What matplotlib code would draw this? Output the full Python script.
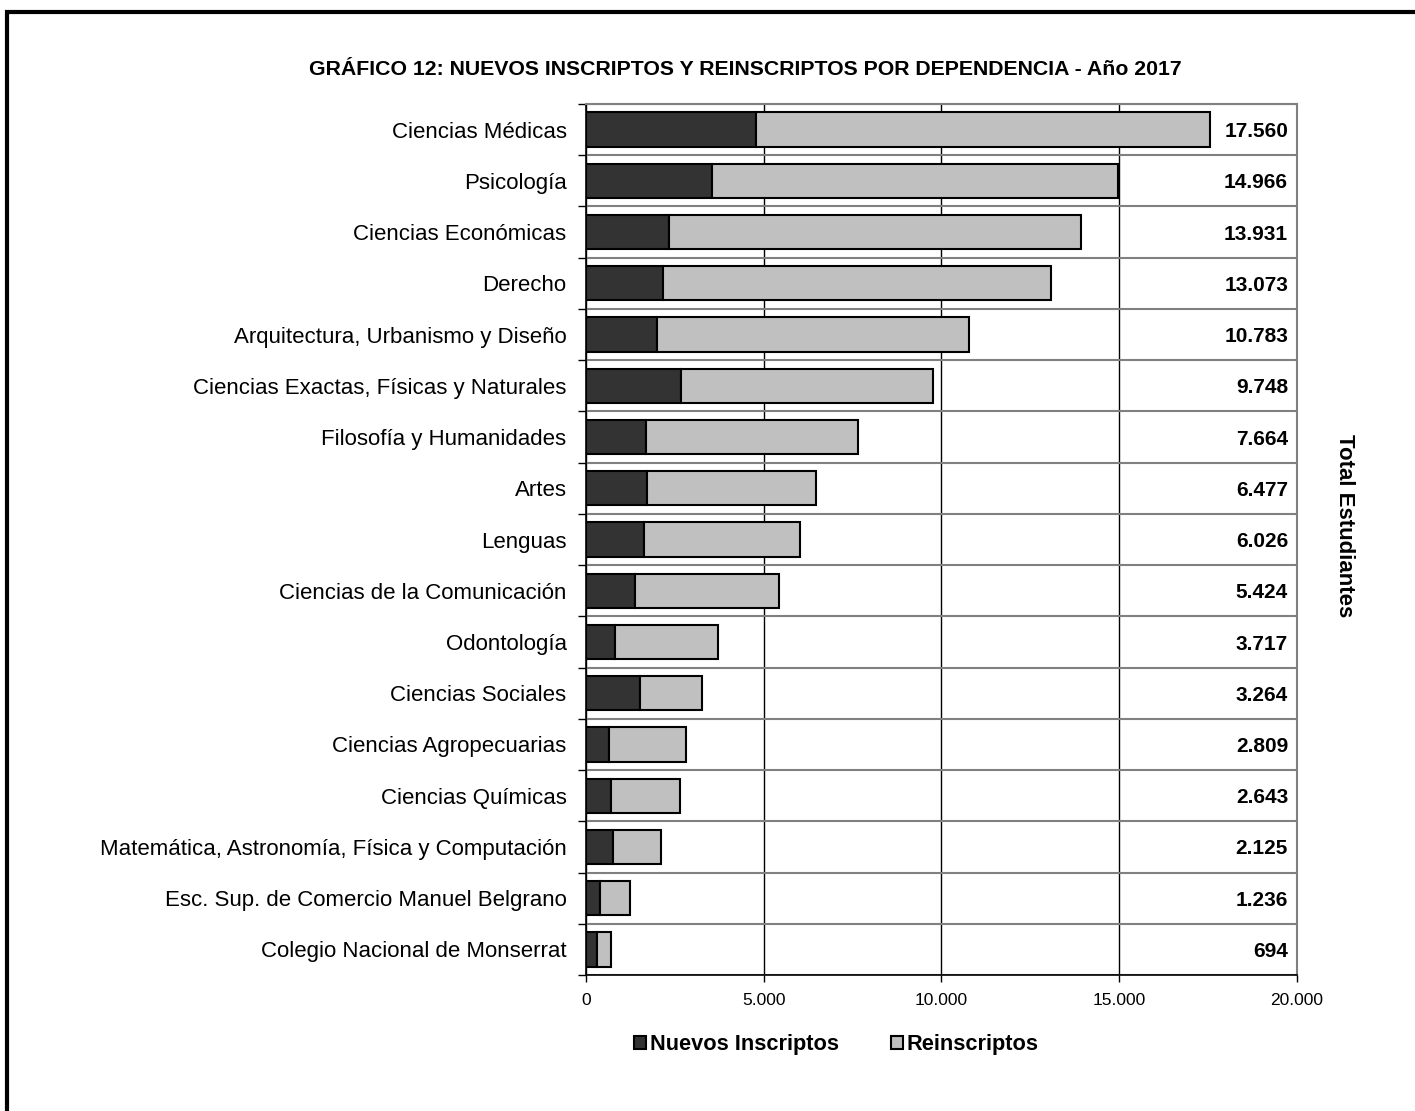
import matplotlib.pyplot as plt
import numpy as np
from matplotlib.patches import Rectangle

plt.rcParams['font.family'] = ['Liberation Sans', 'DejaVu Sans']

# datos
dependencias = [
    'Ciencias Médicas', 'Psicología', 'Ciencias Económicas', 'Derecho',
    'Arquitectura, Urbanismo y Diseño', 'Ciencias Exactas, Físicas y Naturales',
    'Filosofía y Humanidades', 'Artes', 'Lenguas', 'Ciencias de la Comunicación',
    'Odontología', 'Ciencias Sociales', 'Ciencias Agropecuarias', 'Ciencias Químicas',
    'Matemática, Astronomía, Física y Computación', 'Esc. Sup. de Comercio Manuel Belgrano',
    'Colegio Nacional de Monserrat',
]
totales = [17560, 14966, 13931, 13073, 10783, 9748, 7664, 6477, 6026, 5424,
           3717, 3264, 2809, 2643, 2125, 1236, 694]
nuevos = [4780, 3550, 2340, 2170, 2000, 2670, 1700, 1710, 1620, 1380,
          810, 1510, 660, 710, 750, 400, 300]
reinscriptos = [t - n for t, n in zip(totales, nuevos)]
xticks = [0, 5000, 10000, 15000, 20000]


def miles(v):
    return f'{int(v):,}'.replace(',', '.')


fig = plt.figure(figsize=(14.15, 11.11), dpi=100)
ax = fig.add_axes([0.4141, 0.1224, 0.5025, 0.7840])

y = np.arange(len(dependencias))
h1 = ax.barh(y, nuevos, height=0.67, color='#333333', edgecolor='black', linewidth=1.5,
             label='Nuevos Inscriptos', zorder=3)
h2 = ax.barh(y, reinscriptos, left=nuevos, height=0.67, color='#c0c0c0', edgecolor='black',
             linewidth=1.5, label='Reinscriptos', zorder=3)

for yi, t in zip(y, totales):
    ax.text(19750, yi + 0.04, miles(t), ha='right', va='center', fontsize=15, fontweight='bold')

ax.set_xlim(0, 20000)
ax.set_ylim(len(dependencias) - 0.5, -0.5)
ax.set_xticks(xticks)
ax.set_xticklabels([miles(v) for v in xticks], fontsize=12.5)
ax.set_yticks(y)
ax.set_yticklabels(dependencias, fontsize=16)
ax.set_yticks(np.arange(-0.5, len(dependencias)), minor=True)
ax.tick_params(axis='y', which='major', length=0, pad=14)
ax.tick_params(axis='y', which='minor', length=6, width=1, direction='out')
ax.tick_params(axis='x', length=5, width=1, direction='out', pad=8)

ax.grid(axis='x', which='major', color='black', linewidth=1, zorder=1)
ax.grid(axis='y', which='minor', color='#808080', linewidth=1.5, zorder=1)
for s in ['top', 'right']:
    ax.spines[s].set_color('#808080')
    ax.spines[s].set_linewidth(1.5)
for s in ['left', 'bottom']:
    ax.spines[s].set_color('black')
    ax.spines[s].set_linewidth(1.2)

fig.text(0.5265, 0.9375, 'GRÁFICO 12: NUEVOS INSCRIPTOS Y REINSCRIPTOS POR DEPENDENCIA - Año 2017',
         ha='center', va='center', fontsize=15.3, fontweight='bold')
fig.text(0.9505, 0.527, 'Total Estudiantes', rotation=-90, ha='center', va='center',
         fontsize=16, fontweight='bold')

fig.legend(handles=[h1, h2], loc='center', bbox_to_anchor=(0.591, 0.0595), ncol=2,
           frameon=False, prop={'size': 15.7, 'weight': 'bold'}, handlelength=0.55,
           handleheight=0.55, handletextpad=0.15, columnspacing=2.4)

# marco exterior
fig.patches.append(Rectangle((7 / 1415, -0.05), 1.2, 1.05 - 12 / 1111,
                             transform=fig.transFigure, fill=False,
                             edgecolor='black', linewidth=3))

fig.savefig('out.png', dpi=100)
